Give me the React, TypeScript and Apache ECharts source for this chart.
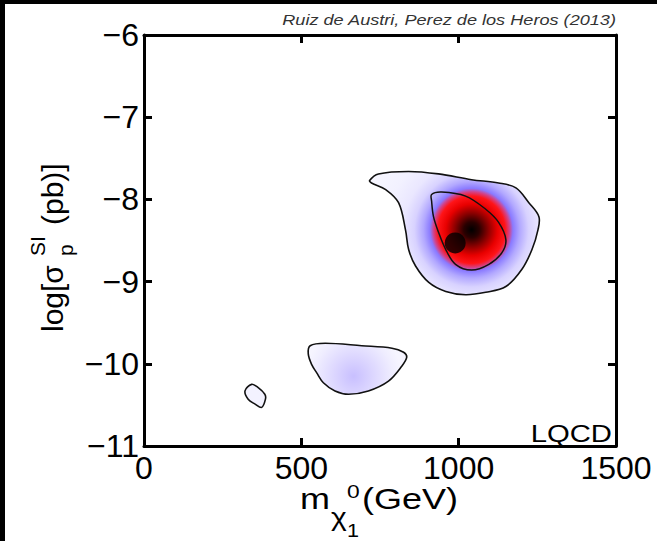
import React, { useEffect, useRef } from 'react';
import * as echarts from 'echarts';

// Axis ranges / ticks
const xRange = [0, 1500];
const xStep = 500;
const yRange = [-11, -6];
const yStep = 1;

// Main posterior region (outer contour) [m_chi (GeV), log sigma]
const mainOuter: number[][] = [
  [717, -7.77], [745, -7.69], [841, -7.66], [936, -7.69], [1041, -7.76], [1127, -7.8],
  [1182, -7.86], [1223, -8.04], [1255, -8.21], [1252, -8.37], [1233, -8.61], [1201, -8.85],
  [1150, -9.06], [1086, -9.13], [1022, -9.16], [959, -9.12], [905, -9.01], [863, -8.81],
  [841, -8.61], [831, -8.37], [809, -8.04], [768, -7.88], [723, -7.8],
];
// Main region inner contour
const mainInner: number[][] = [
  [914, -7.94], [946, -7.91], [1022, -7.96], [1086, -8.12], [1127, -8.28], [1150, -8.49],
  [1137, -8.65], [1096, -8.79], [1041, -8.86], [990, -8.79], [959, -8.61], [936, -8.4],
  [920, -8.21], [914, -8.02],
];
// Lower island
const lowerIsland: number[][] = [
  [528, -9.78], [576, -9.75], [692, -9.78], [788, -9.81], [825, -9.86], [835, -9.92],
  [819, -10.03], [777, -10.21], [713, -10.33], [650, -10.37], [607, -10.33], [570, -10.23],
  [549, -10.11], [533, -10.01], [522, -9.88],
];
// Small island
const smallIsland: number[][] = [
  [321, -10.33], [342, -10.25], [363, -10.29], [384, -10.37], [386, -10.43], [374, -10.53],
  [353, -10.49], [331, -10.43],
];
// Density maxima
const mainPeak = [1041, -8.37];
const lowerPeak = [666, -10.15];
// Best fit point
const bestFit: number[][] = [[989, -8.53]];

const citation = 'Ruiz de Austri, Perez de los Heros (2013)';
const cornerLabel = 'LQCD';

const FONT = '"Liberation Sans", Arial, Helvetica, sans-serif';

function regionSeries(
  pts: number[][],
  fillFn: (api: any) => any,
  z: number,
  lineWidth: number,
) {
  return {
    type: 'custom',
    xAxisIndex: 0,
    yAxisIndex: 0,
    z,
    silent: true,
    clip: true,
    data: pts,
    encode: { x: 0, y: 1 },
    renderItem: (params: any, api: any) => {
      if (params.dataIndex !== 0) return null;
      const points = pts.map((p) => api.coord(p));
      return {
        type: 'polygon',
        shape: { points, smooth: 0.35 },
        style: { fill: fillFn(api), stroke: '#111', lineWidth },
      };
    },
  };
}

export default function App() {
  const ref = useRef<HTMLDivElement>(null);
  useEffect(() => {
    if (!ref.current) return;
    const chart = echarts.init(ref.current, null, { renderer: 'svg' });

    const mainFill = (api: any) => {
      const c = api.coord(mainPeak);
      return new echarts.graphic.RadialGradient(c[0], c[1], 112, [
        { offset: 0, color: '#000000' },
        { offset: 0.07, color: '#2a0000' },
        { offset: 0.15, color: '#8c0000' },
        { offset: 0.23, color: '#e80000' },
        { offset: 0.3, color: '#ff1418' },
        { offset: 0.34, color: '#d0448c' },
        { offset: 0.37, color: '#8a7aff' },
        { offset: 0.43, color: '#b2a8ff' },
        { offset: 0.51, color: '#d8d2ff' },
        { offset: 0.61, color: '#eae7ff' },
        { offset: 0.76, color: '#f2f1ff' },
        { offset: 1, color: '#f7f7ff' },
      ], true);
    };
    const lowerFill = (api: any) => {
      const c = api.coord(lowerPeak);
      return new echarts.graphic.RadialGradient(c[0], c[1], 48, [
        { offset: 0, color: '#c8bfff' },
        { offset: 0.4, color: '#dcd6ff' },
        { offset: 0.8, color: '#efedff' },
        { offset: 1, color: '#f6f5ff' },
      ], true);
    };

    const tickStyle = { show: true, inside: true, length: 8, lineStyle: { color: '#000', width: 3 } };
    const axisCommon = {
      type: 'value',
      splitLine: { show: false },
      axisLine: { show: true, onZero: false, lineStyle: { color: '#000', width: 3 } },
    };

    chart.setOption({
      animation: false,
      backgroundColor: '#fff',
      grid: { left: 144, right: 41, top: 35, bottom: 95, containLabel: false },
      xAxis: [
        {
          ...axisCommon,
          position: 'bottom',
          min: xRange[0], max: xRange[1], interval: xStep,
          axisTick: tickStyle,
          axisLabel: {
            color: '#000', fontSize: 32, fontFamily: FONT, margin: 6,
            formatter: (v: number) => String(v),
          },
        },
        {
          ...axisCommon,
          position: 'top',
          min: xRange[0], max: xRange[1], interval: xStep,
          axisTick: tickStyle,
          axisLabel: { show: false },
        },
      ],
      yAxis: [
        {
          ...axisCommon,
          position: 'left',
          min: yRange[0], max: yRange[1], interval: yStep,
          axisTick: tickStyle,
          axisLabel: {
            color: '#000', fontSize: 32, fontFamily: FONT, margin: 5,
            formatter: (v: number) => String(v).replace('-', '\u2212'),
          },
        },
        {
          ...axisCommon,
          position: 'right',
          min: yRange[0], max: yRange[1], interval: yStep,
          axisTick: tickStyle,
          axisLabel: { show: false },
        },
      ],
      series: [
        regionSeries(smallIsland, () => '#f3f2ff', 2, 1.6),
        regionSeries(lowerIsland, lowerFill, 2, 1.6),
        regionSeries(mainOuter, mainFill, 2, 1.6),
        regionSeries(mainInner, () => 'rgba(0,0,0,0)', 3, 1.5),
        {
          type: 'scatter',
          xAxisIndex: 0,
          yAxisIndex: 0,
          z: 5,
          symbol: 'circle',
          symbolSize: 21,
          itemStyle: { color: '#000' },
          data: bestFit,
        },
      ],
      graphic: [
        // dark frame at top / left edge of the figure
        { type: 'rect', left: 0, top: 0, shape: { width: 657, height: 4 }, style: { fill: '#000' }, z: 100 },
        { type: 'rect', left: 0, top: 0, shape: { width: 5, height: 541 }, style: { fill: '#000' }, z: 100 },
        {
          type: 'text', x: 616, y: 28, z: 100, scaleX: 1.21,
          style: {
            text: citation, fill: '#333', font: `italic 15px ${FONT}`,
            align: 'right', verticalAlign: 'bottom',
          },
        },
        {
          type: 'text', x: 612, y: 446, z: 100, scaleX: 1.22,
          style: {
            text: cornerLabel, fill: '#000', font: `24px ${FONT}`,
            align: 'right', verticalAlign: 'bottom',
          },
        },
        // x axis title: m_{chi_1}^0 (GeV)
        {
          type: 'group', z: 100,
          children: [
            { type: 'text', x: 300, y: 514, scaleX: 1.2, style: { text: 'm', fill: '#000', font: `30px ${FONT}`, verticalAlign: 'bottom' } },
            { type: 'text', x: 331, y: 530, scaleX: 1.2, style: { text: '\u03c7', fill: '#000', font: `25px ${FONT}`, verticalAlign: 'bottom' } },
            { type: 'text', x: 347, y: 540, scaleX: 1.2, style: { text: '1', fill: '#000', font: `18px ${FONT}`, verticalAlign: 'bottom' } },
            { type: 'text', x: 347, y: 501, scaleX: 1.2, style: { text: '0', fill: '#000', font: `19px ${FONT}`, verticalAlign: 'bottom' } },
            { type: 'text', x: 362, y: 514, scaleX: 1.2, style: { text: '(GeV)', fill: '#000', font: `30px ${FONT}`, verticalAlign: 'bottom' } },
          ],
        },
        // y axis title: log[sigma_p^SI (pb)]
        {
          type: 'group', x: 67, y: 332, rotation: Math.PI / 2, z: 100,
          children: [
            { type: 'text', x: 0, y: 0, style: { text: 'log[\u03c3', fill: '#000', font: `30px ${FONT}`, verticalAlign: 'bottom' } },
            { type: 'text', x: 76, y: 9, style: { text: 'p', fill: '#000', font: `21px ${FONT}`, verticalAlign: 'bottom' } },
            { type: 'text', x: 76, y: -19, style: { text: 'SI', fill: '#000', font: `21px ${FONT}`, verticalAlign: 'bottom' } },
            { type: 'text', x: 107, y: 0, style: { text: '(pb)]', fill: '#000', font: `30px ${FONT}`, verticalAlign: 'bottom' } },
          ],
        },
      ],
    });
    return () => chart.dispose();
  }, []);
  return (
    <div
      ref={ref}
      style={{ position: 'absolute', left: 0, top: 0, width: 657, height: 541 }}
    />
  );
}
